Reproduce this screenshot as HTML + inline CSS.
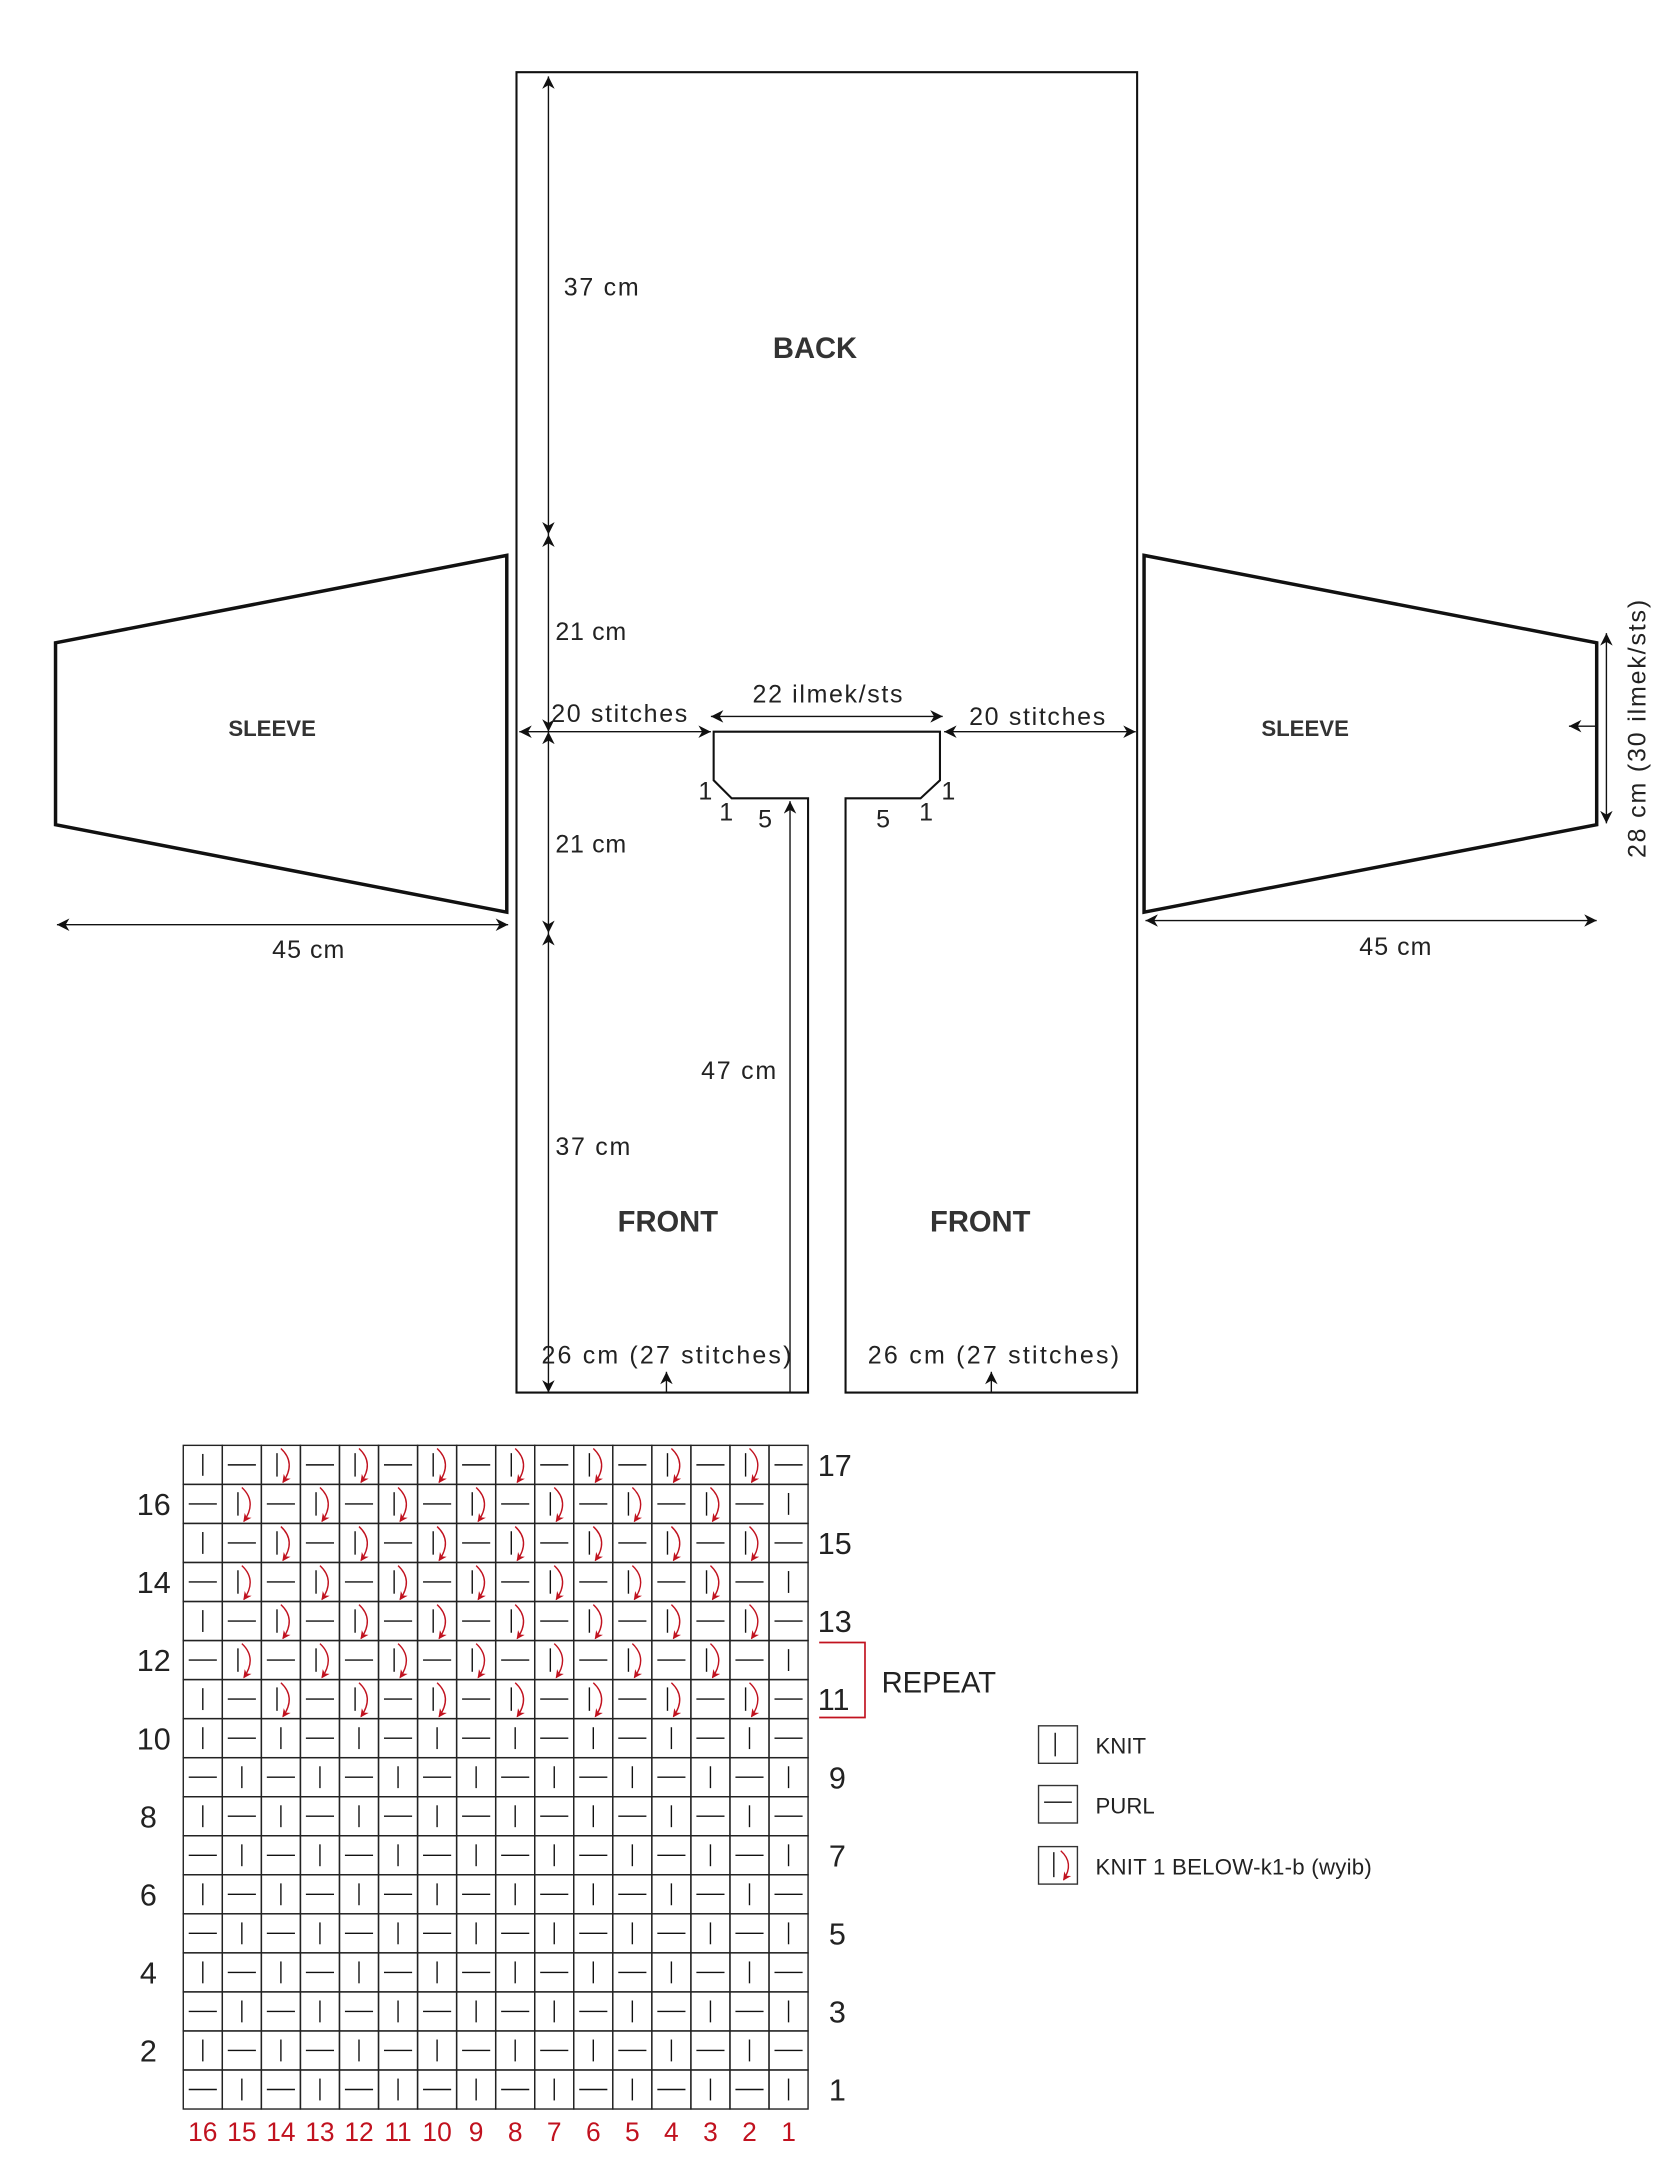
<!DOCTYPE html>
<html><head><meta charset="utf-8">
<style>
html,body{margin:0;padding:0;background:#fff;}
svg{display:block;}
text{font-family:"Liberation Sans",sans-serif;}
</style></head>
<body>
<svg id="s" xmlns="http://www.w3.org/2000/svg" width="1680" height="2179" viewBox="0 0 1210 1569.4">
<defs>
<marker id="a" viewBox="0 0 10 10" refX="10" refY="5" markerWidth="9" markerHeight="9" orient="auto-start-reverse" markerUnits="userSpaceOnUse">
<path d="M0,0 L10,5 L0,10 L3,5 Z" fill="#111"/></marker>
<marker id="r" viewBox="0 0 10 10" refX="9" refY="5" markerWidth="6" markerHeight="6" orient="auto" markerUnits="userSpaceOnUse">
<path d="M0,0 L10,5 L0,10 L3,5 Z" fill="#c1121f"/></marker>
</defs>
<g fill="none" stroke="#111" stroke-width="1.5">
<polygon points="372,52 819,52 819,1003 609,1003 609,575 663,575 677,562 677,527 514,527 514,562 527,575 582,575 582,1003 372,1003"/>
</g>
<g fill="none" stroke="#111" stroke-width="2.5">
<polygon points="40,463 365,400 365,657 40,594"/>
<polygon points="824,400 1150,463 1150,594 824,657"/>
</g>
<g stroke="#111" stroke-width="1" fill="none">
<line x1="395" y1="55" x2="395" y2="385" marker-start="url(#a)" marker-end="url(#a)"/>
<line x1="395" y1="385" x2="395" y2="527" marker-start="url(#a)" marker-end="url(#a)"/>
<line x1="395" y1="527" x2="395" y2="672" marker-start="url(#a)" marker-end="url(#a)"/>
<line x1="395" y1="672" x2="395" y2="1003" marker-start="url(#a)" marker-end="url(#a)"/>
<line x1="374" y1="527" x2="512" y2="527" marker-start="url(#a)" marker-end="url(#a)"/>
<line x1="512" y1="516" x2="679" y2="516" marker-start="url(#a)" marker-end="url(#a)"/>
<line x1="680" y1="527" x2="818" y2="527" marker-start="url(#a)" marker-end="url(#a)"/>
<line x1="569" y1="1003" x2="569" y2="577" marker-end="url(#a)"/>
<line x1="480" y1="1003" x2="480" y2="988" marker-end="url(#a)"/>
<line x1="714" y1="1003" x2="714" y2="988" marker-end="url(#a)"/>
<line x1="41" y1="666" x2="366" y2="666" marker-start="url(#a)" marker-end="url(#a)"/>
<line x1="825" y1="663" x2="1150" y2="663" marker-start="url(#a)" marker-end="url(#a)"/>
<line x1="1157" y1="456" x2="1157" y2="593" marker-start="url(#a)" marker-end="url(#a)"/>
<line x1="1149" y1="523" x2="1130" y2="523" marker-end="url(#a)"/>
</g>
<g fill="#222" font-size="18">
<text x="406" y="213" textLength="54">37 cm</text>
<text x="400" y="461" textLength="51">21 cm</text>
<text x="400" y="614" textLength="51">21 cm</text>
<text x="400" y="832" textLength="54">37 cm</text>
<text x="505" y="777" textLength="54">47 cm</text>
<text x="397" y="520" textLength="98">20 stitches</text>
<text x="542" y="506" textLength="108">22 ilmek/sts</text>
<text x="698" y="522" textLength="98">20 stitches</text>
<text x="503" y="576">1</text><text x="518" y="591">1</text><text x="546" y="596">5</text>
<text x="631" y="596">5</text><text x="662" y="591">1</text><text x="678" y="576">1</text>
<text x="390" y="982" textLength="180">26 cm (27 stitches)</text>
<text x="625" y="982" textLength="181">26 cm (27 stitches)</text>
<text x="196" y="690" textLength="52">45 cm</text>
<text x="979" y="688" textLength="52">45 cm</text>
<text transform="translate(1185,618) rotate(-90)" textLength="186">28 cm (30 ilmek/sts)</text>
</g>
<g fill="#333" font-weight="bold" text-anchor="middle">
<text x="587" y="258" font-size="21">BACK</text>
<text x="481" y="887" font-size="21">FRONT</text>
<text x="706" y="887" font-size="21">FRONT</text>
<text x="196" y="530" font-size="16">SLEEVE</text>
<text x="940" y="530" font-size="16">SLEEVE</text>
</g>
<g id="chart"></g>
<g fill="none" stroke="#c1121f" stroke-width="1.2">
<polyline points="590,1183 623,1183 623,1237 590,1237"/>
</g>
<text x="635" y="1219" font-size="21" fill="#222">REPEAT</text>
<g stroke="#333" stroke-width="1" fill="none">
<rect x="748" y="1243" width="28" height="27"/>
<rect x="748" y="1286" width="28" height="27"/>
<rect x="748" y="1330" width="28" height="27"/>
<line x1="760" y1="1248" x2="760" y2="1265" stroke="#111"/>
<line x1="752" y1="1298" x2="772" y2="1298" stroke="#111"/>
<line x1="759" y1="1334" x2="759" y2="1352" stroke="#111"/>
<path d="M764,1333 Q774,1342 766,1354" stroke="#c1121f" marker-end="url(#r)"/>
</g>
<g font-size="16" fill="#222">
<text x="789" y="1263">KNIT</text>
<text x="789" y="1306">PURL</text>
<text x="789" y="1350" textLength="199">KNIT 1 BELOW-k1-b (wyib)</text>
</g>
</svg>
<script>
(function(){
var g=document.getElementById('chart');
var x0=132,y0=1041,w=450/16,h=478/17,out='';
for(var r=17;r>=1;r--){
 var ry=y0+(17-r)*h;
 for(var c=0;c<16;c++){
  var cx=x0+c*w;
  out+='<rect x="'+cx+'" y="'+ry+'" width="'+w+'" height="'+h+'" fill="none" stroke="#222" stroke-width="1"/>';
  var t;
  if(r>=11){
   if(r%2==1){ t=(c==0)?'k':(c%2==1?'p':'b'); }
   else { t=(c==15)?'k':(c%2==0?'p':'b'); }
  } else {
   if(r%2==0){ t=(c%2==0)?'k':'p'; } else { t=(c%2==0)?'p':'k'; }
  }
  if(t=='k'){out+='<line x1="'+(cx+w/2)+'" y1="'+(ry+h*0.22)+'" x2="'+(cx+w/2)+'" y2="'+(ry+h*0.78)+'" stroke="#111" stroke-width="1"/>';}
  else if(t=='p'){out+='<line x1="'+(cx+w*0.14)+'" y1="'+(ry+h/2)+'" x2="'+(cx+w*0.86)+'" y2="'+(ry+h/2)+'" stroke="#111" stroke-width="1"/>';}
  else {
   out+='<line x1="'+(cx+w*0.4)+'" y1="'+(ry+h*0.2)+'" x2="'+(cx+w*0.4)+'" y2="'+(ry+h*0.8)+'" stroke="#111" stroke-width="1"/>';
   out+='<path d="M'+(cx+w*0.5)+','+(ry+h*0.08)+' Q'+(cx+w*0.9)+','+(ry+h*0.45)+' '+(cx+w*0.55)+','+(ry+h*0.95)+'" fill="none" stroke="#c1121f" stroke-width="1" marker-end="url(#r)"/>';
  }
 }
 var ty=ry+h/2+8;
 if(r%2==1) out+='<text x="'+(r>=10?589:597)+'" y="'+ty+'" font-size="22" fill="#222">'+r+'</text>';
 else out+='<text x="'+(r>=10?123:113)+'" y="'+ty+'" font-size="22" fill="#222" text-anchor="end">'+r+'</text>';
}
for(var c=0;c<16;c++){
 out+='<text x="'+(x0+c*w+w/2)+'" y="1542" font-size="19" fill="#c1121f" text-anchor="middle">'+(16-c)+'</text>';
}
g.innerHTML=out;
})();
</script>
</body></html>
